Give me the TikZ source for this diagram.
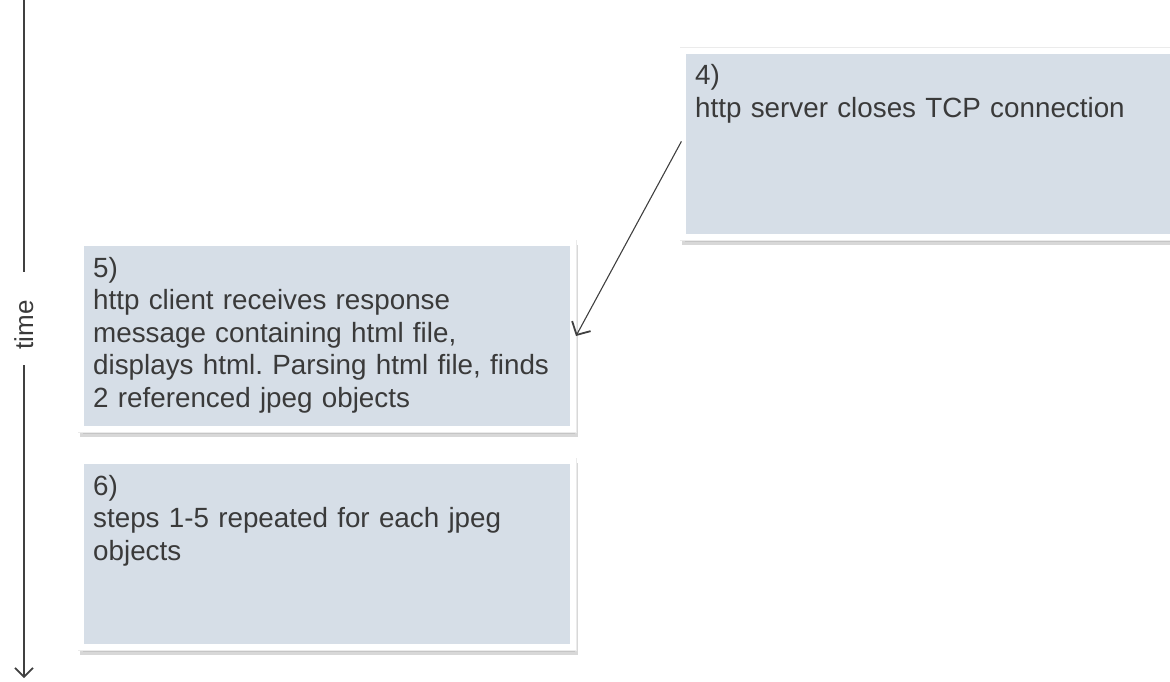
\documentclass[tikz,border=0pt]{standalone}
\usepackage{fontspec}
\setmainfont{Liberation Sans}
\usetikzlibrary{arrows.meta}
\definecolor{boxfill}{HTML}{D6DEE7}
\definecolor{ink}{HTML}{3A3A3A}
\definecolor{linecol}{HTML}{404040}
\frenchspacing
\begin{document}
\begin{tikzpicture}[x=1pt,y=-1pt,
  bigbarb/.tip={Straight Barb[length=10pt,width=21pt,line width=1.8pt]},
  axisbarb/.tip={Straight Barb[length=9pt,width=18pt,line width=1.6pt]},
  stepbox/.style={draw=white, line width=6pt, fill=boxfill, inner sep=0pt, anchor=north west,
    preaction={draw=black!30, fill=black!30, line width=6pt, opacity=0.5,
               transform canvas={shift={(2pt,-5pt)}}},
    preaction={draw=black!8, line width=7pt}},
  steptext/.style={anchor=base west, inner sep=0pt, text width=470pt, align=left,
    font=\fontsize{27.8pt}{32.5pt}\selectfont, text=ink},
  conn/.style={draw=linecol, line width=1.1pt, -bigbarb},
  axis/.style={draw=linecol, line width=1.2pt},
]
\useasboundingbox (0,0) rectangle (1170,682);
\clip (0,0) rectangle (1170,682);

% time axis
\coordinate (ttop) at (24,0);
\coordinate (tgapa) at (24,272);
\coordinate (tgapb) at (24,365);
\coordinate (tbot) at (24,678);
\node[rotate=90, anchor=base, inner sep=0pt, text=ink, font=\fontsize{26pt}{30pt}\selectfont] (timelbl) at (33,325) {time};
\draw[axis] (ttop) -- (tgapa);
\draw[axis, -axisbarb] (tgapb) -- (tbot);

% boxes
\node[stepbox, minimum width=500pt, minimum height=186pt] (box4) at (680,48) {};
\node[stepbox, minimum width=492pt, minimum height=186pt] (box5) at (78,240) {};
\node[stepbox, minimum width=492pt, minimum height=186pt] (box6) at (78,458) {};

% texts
\node[steptext] (t4) at (695,85) {4)\\http server closes TCP connection};
\node[steptext] (t5) at (93,277) {5)\\http client receives response\\message containing html file,\\displays html. Parsing html file, finds\\2 referenced jpeg objects};
\node[steptext] (t6) at (93,495) {6)\\steps 1-5 repeated for each jpeg\\objects};

% connector
\draw[conn, shorten <=-3pt] (box4.west) -- (box5.east);
\end{tikzpicture}
\end{document}
